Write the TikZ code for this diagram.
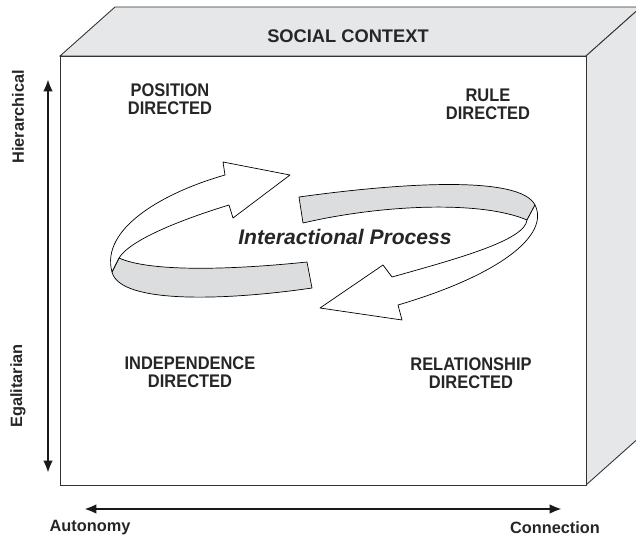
\documentclass[tikz,border=0pt]{standalone}
\usepackage{fontspec}
\setmainfont{Liberation Sans}
\newfontfamily\narrowsans[FakeStretch=0.9]{Liberation Sans}
\usepackage{xcolor}
\usepackage{tikz}
\usetikzlibrary{arrows.meta}

\definecolor{facegray}{HTML}{E6E7E8}
\definecolor{bandgray}{HTML}{DCDDDE}

\begin{document}
\begin{tikzpicture}[x=0.02cm, y=-0.02cm,
  boxline/.style={draw=black!80, line width=0.5pt},
  ribbon/.style={draw=black, line width=0.4pt, line join=round},
  axisline/.style={draw=black!90, line width=1.7pt, {Latex[length=7pt,width=5.5pt]}-{Latex[length=7pt,width=5.5pt]}},
  quadlabel/.style={font=\narrowsans\fontsize{10.4}{10.2}\selectfont\bfseries, align=center, text=black!85},
  axislabel/.style={font=\fontsize{9.3}{10}\selectfont\bfseries, text=black!85}]
\useasboundingbox (0,0) rectangle (636,541);

% the box
\begin{scope}
\clip (0,0) rectangle (636,541);
\filldraw [fill=facegray, boxline]
(60,56) -- (115,7) -- (641,7) -- (586,56) -- cycle;
\filldraw [fill=facegray, boxline]
(586,56) -- (641,7) -- (641,436) -- (586,485) -- cycle;
\filldraw [fill=white, boxline]
(60,56) rectangle (586,485);
\end{scope}

\node [font=\fontsize{10.4}{12}\selectfont\bfseries, text=black!85] (context) at (348,36) {SOCIAL CONTEXT};

% quadrants
\node [quadlabel] (position) at (170,99) {POSITION\\DIRECTED};
\node [quadlabel] (rule) at (488,104) {RULE\\DIRECTED};
\node [quadlabel] (independence) at (190,372) {INDEPENDENCE\\DIRECTED};
\node [quadlabel] (relationship) at (471,373) {RELATIONSHIP\\DIRECTED};

% ribbon, left half
\filldraw [fill=bandgray, ribbon]
(119,258) .. controls (150,272) and (230,270) .. (307,262) --
(312,288) .. controls (230,300) and (120,305) .. (112,272) -- cycle;
\filldraw [fill=white, ribbon]
(290,175) -- (223,162) -- (225,175)
.. controls (165,192) and (100,228) .. (112,272) --
(119,258) .. controls (130,240) and (180,220) .. (229,205) --
(233,218) -- cycle;

% ribbon, right half
\filldraw [fill=bandgray, ribbon]
(299,197) .. controls (400,183) and (520,175) .. (535,205) --
(527,220) .. controls (480,200) and (380,205) .. (303,223) -- cycle;
\filldraw [fill=white, ribbon]
(320,308) -- (383,265) -- (392,277)
.. controls (460,258) and (525,240) .. (527,220) --
(535,205) .. controls (550,235) and (500,275) .. (398,305) --
(402,320) -- cycle;

\node [font=\fontsize{12}{14}\selectfont\bfseries\itshape, text=black!85] (process) at (345,237) {Interactional Process};

% axes
\coordinate (hitop) at (48,79);
\coordinate (lobottom) at (48,473);
\draw [axisline] (hitop) -- (lobottom);
\node [axislabel, rotate=90] (hier) at (18,117) {Hierarchical};
\node [axislabel, rotate=90] (egal) at (18,386) {Egalitarian};

\coordinate (autoend) at (84,509);
\coordinate (connend) at (562,509);
\draw [axisline] (autoend) -- (connend);
\node [axislabel] (autonomy) at (90,528) {Autonomy};
\node [axislabel] (connection) at (555,528) {Connection};
\end{tikzpicture}
\end{document}
